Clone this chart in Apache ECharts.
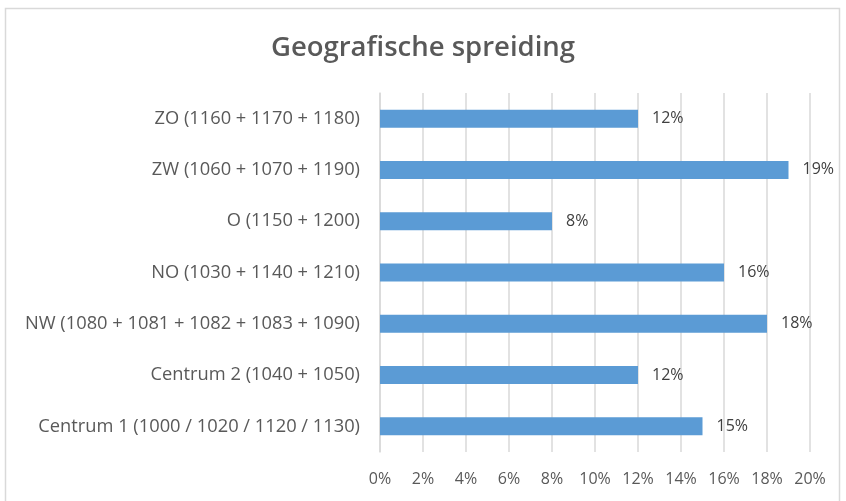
<!DOCTYPE html>
<html><head><meta charset="utf-8">
<script src="https://cdn.jsdelivr.net/npm/echarts@6/dist/echarts.min.js"></script>
<style>html,body{margin:0;padding:0;background:#fff}#c{width:846px;height:501px}</style>
</head><body><div id="c"></div>
<script>
const categories = [
  'Centrum 1 (1000 / 1020 / 1120 / 1130)',
  'Centrum 2 (1040 + 1050)',
  'NW (1080 + 1081 + 1082 + 1083 + 1090)',
  'NO (1030 + 1140 + 1210)',
  'O (1150 + 1200)',
  'ZW (1060 + 1070 + 1190)',
  'ZO (1160 + 1170 + 1180)'
];
const values = [15, 12, 18, 16, 8, 19, 12];
const titleText = 'Geografische spreiding';
const FONT = '"Open Sans", "Noto Sans", sans-serif';

const chart = echarts.init(document.getElementById('c'));
chart.setOption({
  animation: false,
  title: {
    text: titleText, left: 'center', top: 29,
    textStyle: { fontFamily: FONT, fontSize: 27.5, fontWeight: 600, color: '#595959' }
  },
  graphic: [{
    type: 'rect', shape: { x: 5.5, y: 8.5, width: 834, height: 500 },
    style: { fill: 'none', stroke: '#d9d9d9', lineWidth: 1.5 }, silent: true
  }],
  grid: { left: 380, right: 36, top: 93, bottom: 49, containLabel: false },
  xAxis: {
    type: 'value', min: 0, max: 20, interval: 2,
    axisLabel: { formatter: '{value}%', fontFamily: FONT, fontSize: 16, color: '#595959', margin: 19 },
    axisLine: { show: false }, axisTick: { show: false },
    splitLine: { lineStyle: { color: '#d9d9d9', width: 1.5 } }
  },
  yAxis: {
    type: 'category', data: categories,
    axisLabel: { fontFamily: FONT, fontSize: 18.3, color: '#595959', margin: 20 },
    axisLine: { show: true, lineStyle: { color: '#d9d9d9', width: 1.5 } },
    axisTick: { show: false }
  },
  series: [{
    type: 'bar', data: values, barWidth: 18,
    itemStyle: { color: '#5b9bd5' },
    label: { show: true, position: 'right', distance: 14, formatter: '{c}%',
      fontFamily: FONT, fontSize: 16, color: '#404040' }
  }]
});
</script></body></html>
